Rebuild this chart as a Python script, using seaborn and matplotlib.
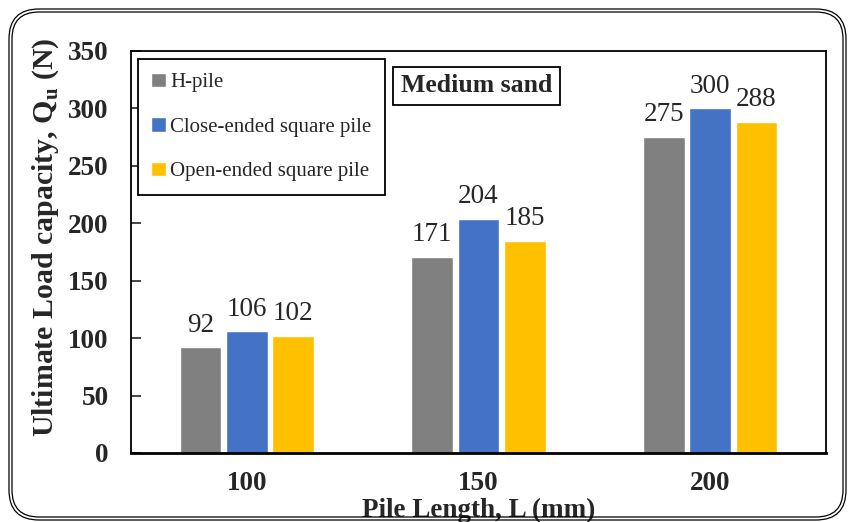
import matplotlib
matplotlib.use("Agg")
import matplotlib.pyplot as plt
import seaborn as sns
import pandas as pd
from matplotlib.patches import FancyBboxPatch

lengths = ["100", "150", "200"]
pile_types = ["H-pile", "Close-ended square pile", "Open-ended square pile"]
h_pile = [92, 171, 275]
close_ended = [106, 204, 300]
open_ended = [102, 185, 288]
colors = ["#808080", "#4472C4", "#FFC000"]

rows = []
for name, vals in zip(pile_types, [h_pile, close_ended, open_ended]):
    for L, v in zip(lengths, vals):
        rows.append({"L": L, "Q": v, "pile": name})
df = pd.DataFrame(rows)

sns.set_style("white")
plt.rcParams["font.family"] = ["Liberation Serif", "DejaVu Serif"]
plt.rcParams["mathtext.fontset"] = "custom"
plt.rcParams["mathtext.rm"] = "Liberation Serif"
plt.rcParams["mathtext.bf"] = "Liberation Serif:bold"

fig = plt.figure(figsize=(8.48, 5.22), dpi=100)
ax = fig.add_axes([131/848, 1-453/522, 695/848, 402/522])

sns.barplot(data=df, x="L", y="Q", hue="pile", order=lengths, hue_order=pile_types,
            palette=colors, saturation=1, width=0.6, gap=0.1, ax=ax, legend=True)

for c in ax.containers:
    ax.bar_label(c, fmt="%d", padding=7, fontsize=19.5)

ax.set_ylim(0, 350)
ax.set_xlim(-0.5, 2.5)
ax.set_yticks(range(0, 351, 50))
ax.tick_params(axis="y", direction="in", length=7, width=1.2, left=True, pad=16, labelsize=19.5)
ax.tick_params(axis="x", length=0, pad=13, labelsize=19.5)
for lab in ax.get_xticklabels() + ax.get_yticklabels():
    lab.set_fontweight("bold")
for s in ax.spines.values():
    s.set_visible(True)
    s.set_color("black")
    s.set_linewidth(1.3)
ax.spines["bottom"].set_linewidth(2)

ax.set_xlabel("Pile Length, L (mm)", fontsize=19.5, fontweight="bold")
ax.set_ylabel(r"Ultimate Load capacity, Q$_{\mathbf{u}}$ (N)", fontsize=21.5, fontweight="bold")
ax.xaxis.set_label_coords(0.5, -0.112)
ax.yaxis.set_label_coords(-0.100, 0.537)

leg = ax.legend(loc="upper left", bbox_to_anchor=(0.01, 0.98), borderaxespad=0,
                fontsize=15, frameon=True, fancybox=False, edgecolor="black",
                labelspacing=1.2, handlelength=0.7, handleheight=0.7,
                handletextpad=0.2, borderpad=0.65)
leg.get_frame().set_linewidth(1.3)
leg.get_frame().set_alpha(1)

ax.text(0.497, 0.913, "Medium sand", transform=ax.transAxes, ha="center", va="center",
        fontsize=18.5, fontweight="bold",
        bbox=dict(boxstyle="square,pad=0.3", fc="white", ec="black", lw=1.3))

# rounded double border around the figure
for inset in (0, 3):
    p = FancyBboxPatch((9 + inset, 2 + inset), 837 - 2*inset, 511 - 2*inset,
                       boxstyle="round,pad=0,rounding_size=%d" % (30 - inset),
                       transform=None, fill=False, ec="black", lw=0.9)
    fig.patches.append(p)

fig.savefig("out.png", dpi=100)
